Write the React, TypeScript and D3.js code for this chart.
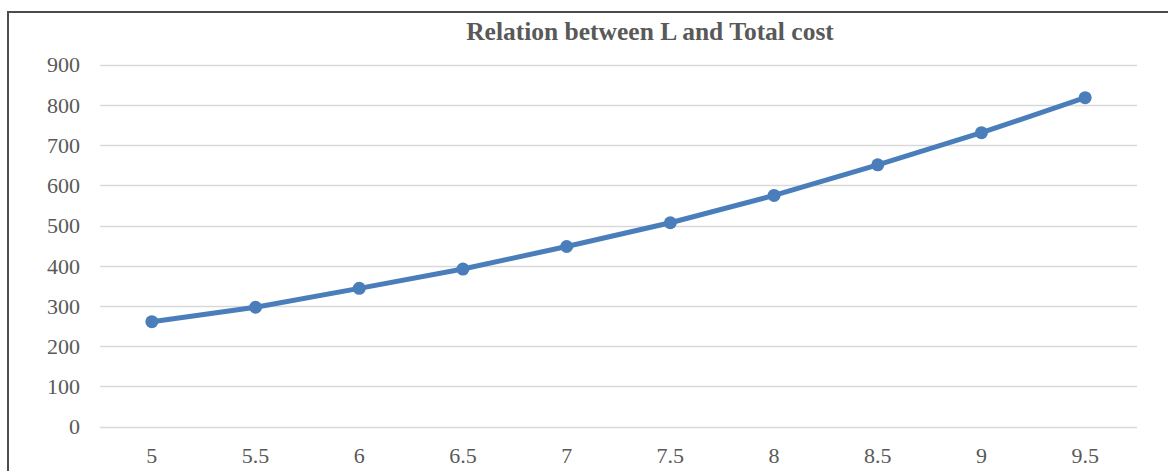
import React from "react";
import * as d3 from "d3";

// Lengths L (categories along the x axis)
const lengths: string[] = ["5", "5.5", "6", "6.5", "7", "7.5", "8", "8.5", "9", "9.5"];
// Total cost for each length
const totalCost: number[] = [261, 297, 344, 392, 448, 507, 575, 651, 731, 818];
// Value axis ticks
const yTicks: number[] = [0, 100, 200, 300, 400, 500, 600, 700, 800, 900];

const W = 1168;
const H = 471;
const plot = { left: 100, right: 1137, top: 64.7, bottom: 426.7 };

export default function App() {
  const x = d3
    .scaleBand<string>()
    .domain(lengths)
    .range([plot.left, plot.right])
    .paddingInner(0)
    .paddingOuter(0);
  const y = d3.scaleLinear().domain([0, 900]).range([plot.bottom, plot.top]);

  const cx = (d: string) => (x(d) as number) + x.bandwidth() / 2;
  const points: [number, number][] = lengths.map((d, i) => [cx(d), y(totalCost[i])]);
  const line = d3.line<[number, number]>().x((p) => p[0]).y((p) => p[1]);

  const serif = "'Liberation Serif', 'Times New Roman', serif";
  const textColor = "#595959";

  return (
    <svg
      width={W}
      height={H}
      style={{ position: "absolute", left: 0, top: 0, background: "#fff" }}
    >
      {/* chart frame */}
      <rect x={8} y={12} width={W + 20} height={H + 20} fill="#fff" stroke="#4d4d4d" strokeWidth={2} />

      <text
        x={650}
        y={40}
        textAnchor="middle"
        fontFamily={serif}
        fontWeight="bold"
        fontSize={25.5}
        fill={textColor}
      >
        Relation between L and Total cost
      </text>

      {/* horizontal gridlines */}
      {yTicks.map((t) => (
        <line
          key={`g${t}`}
          x1={plot.left}
          x2={plot.right}
          y1={Math.round(y(t)) + 0.5}
          y2={Math.round(y(t)) + 0.5}
          stroke="#d9d9d9"
          strokeWidth={1.3}
        />
      ))}

      {/* value axis labels */}
      {yTicks.map((t) => (
        <text
          key={`y${t}`}
          x={80}
          y={y(t)}
          dy="0.35em"
          textAnchor="end"
          fontFamily={serif}
          fontSize={22}
          fill={textColor}
        >
          {t}
        </text>
      ))}

      {/* category axis labels */}
      {lengths.map((d) => (
        <text
          key={`x${d}`}
          x={cx(d)}
          y={463}
          textAnchor="middle"
          fontFamily={serif}
          fontSize={22}
          fill={textColor}
        >
          {d}
        </text>
      ))}

      {/* series line and markers */}
      <path
        d={line(points) ?? ""}
        fill="none"
        stroke="#4a7ebb"
        strokeWidth={5}
        strokeLinejoin="round"
        strokeLinecap="round"
      />
      {points.map((p, i) => (
        <circle key={`m${i}`} cx={p[0]} cy={p[1]} r={6.5} fill="#4a7ebb" />
      ))}
    </svg>
  );
}
